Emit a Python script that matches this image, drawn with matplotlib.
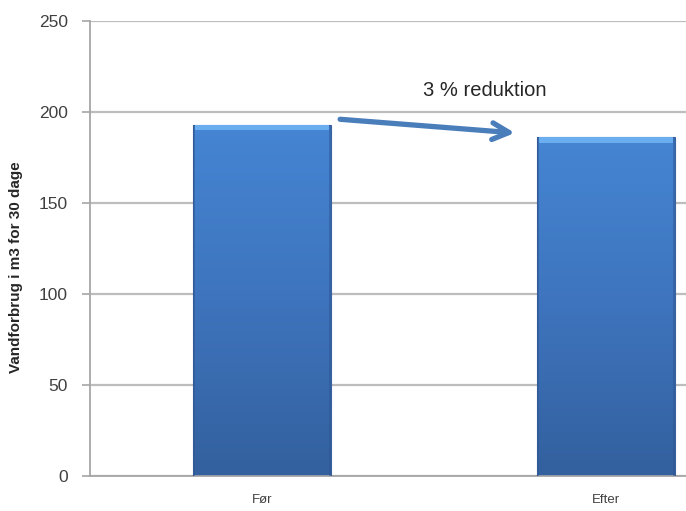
import matplotlib.pyplot as plt
import numpy as np
from matplotlib.colors import LinearSegmentedColormap
from matplotlib.patches import Rectangle

plt.rcParams['font.family'] = ['Liberation Sans', 'DejaVu Sans']

categories = ['Før', 'Efter']
values = [193, 186]
yticks = [0, 50, 100, 150, 200, 250]
ylabel = 'Vandforbrug i m3 for 30 dage'
note = '3 % reduktion'

fig = plt.figure(figsize=(6.86, 5.11), dpi=100)
# plot area runs past the right edge of the canvas
ax = fig.add_axes([0.1312, 0.0685, 1.003, 0.8904])

x = np.arange(len(categories))
bars = ax.bar(x, values, width=0.4, color='none', edgecolor='#3a62a0', linewidth=0.8, zorder=3)

# vertical gradient fill inside each bar
grad = LinearSegmentedColormap.from_list('bar', ['#33609e', '#3e74bd', '#4585d3'])
g = np.linspace(0, 1, 256).reshape(-1, 1)
for b in bars:
    x0, w, h = b.get_x(), b.get_width(), b.get_height()
    im = ax.imshow(g, cmap=grad, origin='lower', aspect='auto',
                   extent=(x0, x0 + w, 0, h), zorder=2)
    im.set_clip_path(b)
    # light bevel along the top edge
    ax.add_patch(Rectangle((x0 + 0.006, h - 3.0), w - 0.012, 3.0,
                           facecolor='#6aaef0', edgecolor='none', zorder=3))
    ax.add_patch(Rectangle((x0, 0), 0.006, h, facecolor='#2d5690',
                           edgecolor='none', alpha=0.5, zorder=3))
    ax.add_patch(Rectangle((x0 + w - 0.006, 0), 0.006, h, facecolor='#2d5690',
                           edgecolor='none', alpha=0.5, zorder=3))

ax.set_xlim(-0.5, 1.5)
ax.set_ylim(0, 250)
ax.set_yticks(yticks)
ax.set_xticks(x)
ax.set_xticklabels(categories, fontsize=9.5, color='#404040')
ax.tick_params(axis='x', length=0, pad=13)
ax.tick_params(axis='y', length=6, width=1.2, color='#a6a6a6', pad=10,
               labelsize=12.5, labelcolor='#404040')

ax.yaxis.grid(True, color='#bdbdbd', linewidth=1.6, zorder=0)
ax.set_axisbelow(True)
for s in ['top', 'right']:
    ax.spines[s].set_visible(False)
for s in ['left', 'bottom']:
    ax.spines[s].set_color('#a6a6a6')
    ax.spines[s].set_linewidth(1.3)

ax.set_ylabel(ylabel, fontsize=11, fontweight='bold', color='#262626')
ax.yaxis.set_label_coords(-0.097, 0.46)

ax.annotate('', xy=(0.735, 188.5), xytext=(0.227, 196),
            arrowprops=dict(arrowstyle='->,head_length=1.2,head_width=0.6',
                            color='#4a7ebb', lw=3.8, shrinkA=0, shrinkB=0), zorder=4)
ax.text(0.648, 212, note, ha='center', va='center', fontsize=14.5, color='#262626')

fig.savefig('out.png', dpi=100)
